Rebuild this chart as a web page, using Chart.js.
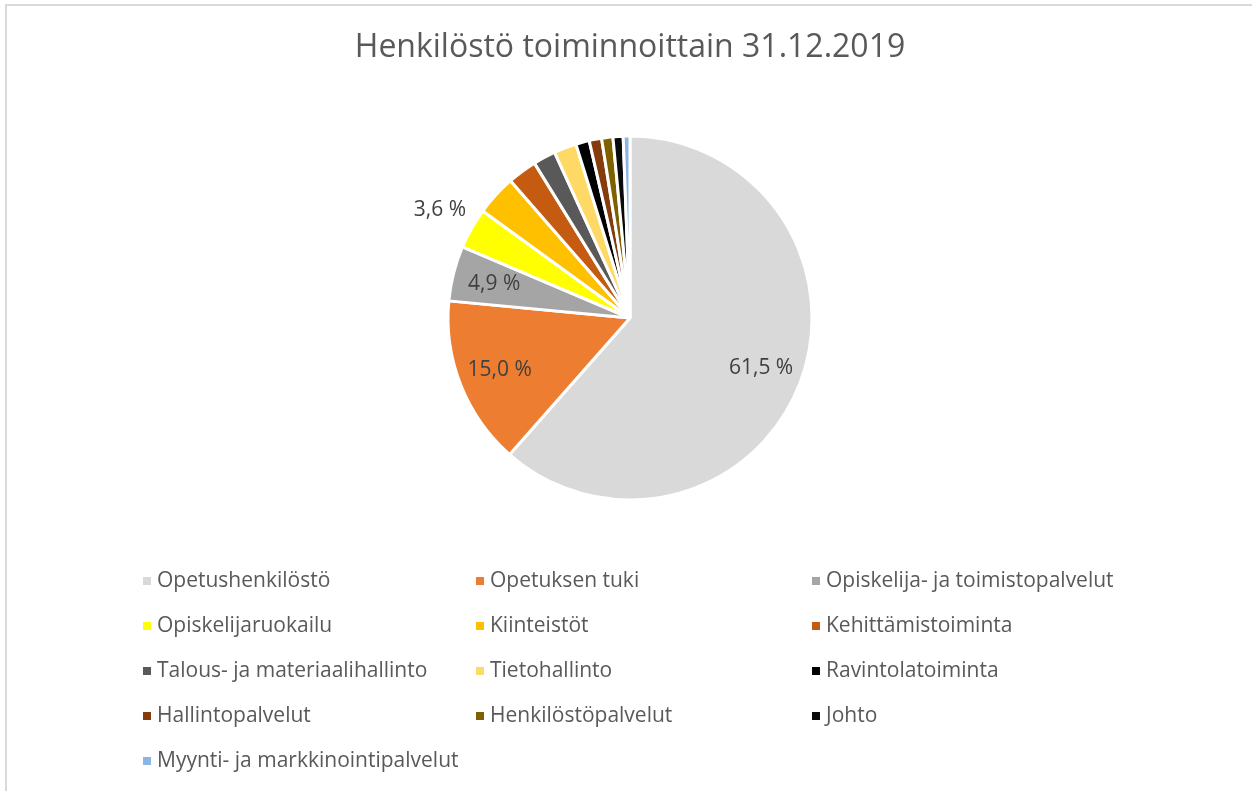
<!DOCTYPE html>
<html>
<head>
<meta charset="utf-8">
<script src="https://cdn.jsdelivr.net/npm/chart.js@4/dist/chart.umd.min.js"></script>
<style>
html,body{margin:0;padding:0;background:#fff;}
#wrap{position:relative;width:1252px;height:791px;}
canvas{display:block;}
</style>
</head>
<body>
<div id="wrap"><canvas id="c" width="1252" height="791"></canvas></div>
<script>
const chartTitle = "Henkilöstö toiminnoittain 31.12.2019";
const categories = [
  "Opetushenkilöstö", "Opetuksen tuki", "Opiskelija- ja toimistopalvelut",
  "Opiskelijaruokailu", "Kiinteistöt", "Kehittämistoiminta",
  "Talous- ja materiaalihallinto", "Tietohallinto", "Ravintolatoiminta",
  "Hallintopalvelut", "Henkilöstöpalvelut", "Johto",
  "Myynti- ja markkinointipalvelut"
];
const shares = [61.5, 15.0, 4.9, 3.6, 3.6, 2.6, 2.0, 2.0, 1.2, 1.1, 1.0, 0.9, 0.6];
const labelledSlices = [0, 1, 2, 3];
const colors = [
  "#D9D9D9", "#ED7D31", "#A5A5A5", "#FFFF00", "#FFC000", "#C55A11",
  "#595959", "#FFD966", "#000000", "#843C0C", "#7F6000", "#0A0A0A", "#8DB4E2"
];

const FONT = "'Open Sans', 'Liberation Sans', sans-serif";

function fmt(v){ return v.toFixed(1).replace('.', ',') + ' %'; }

const framePlugin = {
  id: 'frame',
  beforeDraw(chart){
    const ctx = chart.ctx;
    ctx.save();
    ctx.fillStyle = '#fff';
    ctx.fillRect(0,0,chart.width,chart.height);
    ctx.strokeStyle = '#D9D9D9';
    ctx.lineWidth = 2;
    ctx.beginPath();
    ctx.moveTo(6, chart.height + 5);
    ctx.lineTo(6, 5);
    ctx.lineTo(chart.width + 5, 5);
    ctx.stroke();
    ctx.fillStyle = '#595959';
    ctx.font = "32px " + FONT;
    ctx.textAlign = 'center';
    ctx.textBaseline = 'middle';
    ctx.fillText(chartTitle, 630, 48);
    ctx.restore();
  }
};

const labelPlugin = {
  id: 'sliceLabels',
  afterDatasetsDraw(chart){
    const ctx = chart.ctx;
    const meta = chart.getDatasetMeta(0);
    ctx.save();
    ctx.font = "21px " + FONT;
    ctx.fillStyle = '#404040';
    ctx.textAlign = 'center';
    ctx.textBaseline = 'middle';
    labelledSlices.forEach(i => {
      const arc = meta.data[i];
      const p = arc.getProps(['x','y','startAngle','endAngle','outerRadius'], true);
      const mid = (p.startAngle + p.endAngle) / 2;
      const f = shares[i] >= 4 ? 0.77 : 1.2;
      const x = p.x + Math.cos(mid) * p.outerRadius * f;
      const y = p.y + Math.sin(mid) * p.outerRadius * f;
      ctx.fillText(fmt(shares[i]), x, y);
    });
    ctx.restore();
  }
};

const legendPlugin = {
  id: 'gridLegend',
  afterDraw(chart){
    const ctx = chart.ctx;
    const colX = [143, 476, 812];
    const row0 = 581, rowStep = 45;
    ctx.save();
    ctx.font = "21px " + FONT;
    ctx.textBaseline = 'middle';
    ctx.textAlign = 'left';
    categories.forEach((name, i) => {
      const col = i % 3, row = Math.floor(i / 3);
      const x = colX[col], y = row0 + row * rowStep;
      ctx.fillStyle = colors[i];
      ctx.fillRect(x, y - 4, 8, 8);
      ctx.fillStyle = '#595959';
      ctx.fillText(name, x + 14, y);
    });
    ctx.restore();
  }
};

new Chart(document.getElementById('c'), {
  type: 'pie',
  data: {
    labels: categories,
    datasets: [{
      data: shares,
      backgroundColor: colors,
      borderColor: '#ffffff',
      borderWidth: 3,
      radius: 182
    }]
  },
  options: {
    responsive: false,
    animation: false,
    layout: { padding: { top: 100, bottom: 255, left: 380, right: 372 } },
    plugins: {
      legend: { display: false },
      title: { display: false },
      tooltip: { enabled: false }
    }
  },
  plugins: [framePlugin, labelPlugin, legendPlugin]
});
</script>
</body>
</html>
